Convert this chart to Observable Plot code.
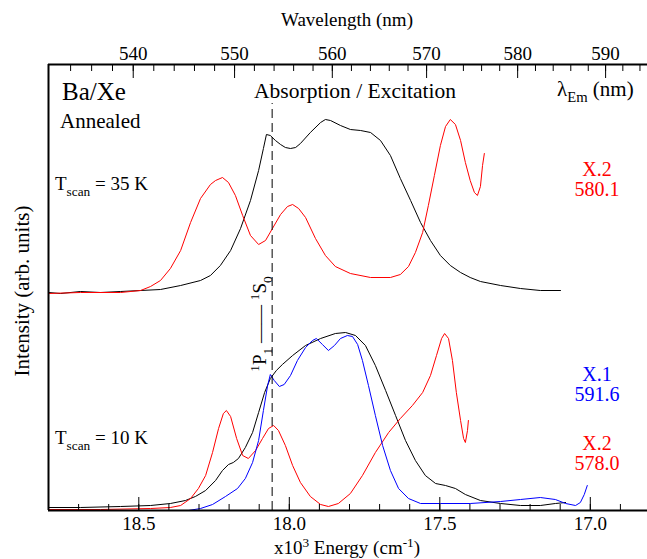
<!DOCTYPE html>
<html><head><meta charset="utf-8">
<script src="https://cdn.jsdelivr.net/npm/d3@7"></script>
<script src="https://cdn.jsdelivr.net/npm/@observablehq/plot@0.6"></script>
<style>
body{margin:0;background:#fff;overflow:hidden}
</style></head><body><div id="chart"></div>
<script>
// Energies in 10^3 cm^-1, intensities in arbitrary units
const black35E = [18.80,18.76,18.694,18.627,18.561,18.494,18.428,18.361,18.295,18.262,18.229,18.195,18.162,18.129,18.102,18.086,18.076,18.063,18.046,18.029,18.013,17.996,17.979,17.963,17.930,17.896,17.880,17.863,17.830,17.797,17.763,17.730,17.697,17.664,17.631,17.597,17.564,17.531,17.498,17.465,17.431,17.399,17.365,17.298,17.232,17.166,17.099];
const black35I = [218,217,219,218,219,220,221,225,230,235,245,260,282,310,340,362,376,375,370,366,363,362,363,367,378,388,391,390,385,381,380,378,370,355,332,310,288,270,255,245,238,233,229,225,222,220,220];
const red35E = [18.80,18.694,18.561,18.494,18.461,18.428,18.395,18.361,18.328,18.295,18.262,18.245,18.222,18.202,18.179,18.155,18.129,18.102,18.079,18.056,18.029,18.006,17.989,17.969,17.946,17.913,17.880,17.847,17.797,17.730,17.664,17.631,17.604,17.581,17.557,17.538,17.518,17.498,17.481,17.465,17.448,17.431,17.415,17.399,17.385,17.375,17.365,17.358,17.352];
const red35I = [217,218,218,220,224,230,242,260,288,312,326,330,333,328,315,295,275,266,270,282,296,304,306,302,293,272,255,244,237,233,233,236,244,258,278,305,335,365,384,391,386,370,348,330,318,315,324,345,357];
const black10E = [18.80,18.694,18.561,18.461,18.395,18.345,18.312,18.278,18.245,18.222,18.202,18.186,18.169,18.146,18.122,18.102,18.082,18.063,18.043,18.023,17.989,17.946,17.896,17.847,17.813,17.780,17.747,17.714,17.680,17.647,17.614,17.581,17.548,17.514,17.481,17.448,17.415,17.365,17.298,17.232,17.166,17.116,17.082];
const black10I = [3,3,4,5,7,10,14,20,30,40,46,48,52,63,78,98,118,132,140,146,155,165,172,177,178,175,165,145,120,95,70,50,35,27,25,22,16,10,7,5,5,7,8];
const red10E = [18.80,18.627,18.461,18.395,18.361,18.328,18.302,18.278,18.255,18.235,18.219,18.209,18.195,18.175,18.155,18.136,18.112,18.089,18.069,18.052,18.036,18.013,17.989,17.963,17.930,17.896,17.870,17.837,17.797,17.757,17.714,17.670,17.631,17.591,17.557,17.531,17.511,17.494,17.484,17.471,17.458,17.445,17.431,17.421,17.415,17.408,17.405];
const red10I = [1,1,2,3,5,12,22,35,58,82,97,100,94,72,55,52,60,72,82,85,80,65,45,28,14,6,4,7,17,35,58,78,92,105,118,135,155,172,177,172,150,118,90,72,68,80,90];
const blue10E = [18.335,18.295,18.255,18.212,18.172,18.146,18.122,18.102,18.086,18.072,18.063,18.050,18.033,18.017,17.996,17.973,17.946,17.923,17.910,17.890,17.870,17.850,17.830,17.807,17.790,17.773,17.757,17.737,17.714,17.690,17.664,17.637,17.604,17.564,17.498,17.399,17.298,17.232,17.166,17.116,17.082,17.049,17.033,17.020,17.010];
const blue10I = [0,2,6,14,22,32,48,70,100,125,136,130,124,126,135,150,163,170,172,166,160,165,172,175,174,166,150,125,95,65,40,22,12,7,7,7,9,11,13,11,7,5,8,16,25];

const energyMajor = [18.5,18.0,17.5,17.0];
const energyMinor = [18.7,18.6,18.5,18.4,18.3,18.2,18.1,18.0,17.9,17.8,17.7,17.6,17.5,17.4,17.3,17.2,17.1,17.0,16.9];
const wavelengthMajor = [540,550,560,570,580,590];
const wavelengthMinor = [534,536,538,540,542,544,546,548,550,552,554,556,558,560,562,564,566,568,570,572,574,576,578,580,582,584,586,588,590,592,594];
const transitionE = [18.057];   // 1P1 - 1S0
const transitionTop = 407;
const xDomain = [18.8, 16.8];
const yDomain = [0, 446];
const FONT = "Liberation Serif";

const seriesList = [
  {id:"abs35", E:black35E, I:black35I, color:"black"},
  {id:"x2_35", E:red35E, I:red35I, color:"#ff0000"},
  {id:"abs10", E:black10E, I:black10I, color:"black"},
  {id:"x2_10", E:red10E, I:red10I, color:"#ff0000"},
  {id:"x1_10", E:blue10E, I:blue10I, color:"#0000ff"}
];
const rows = seriesList.flatMap(s => s.E.map((e,i) => ({E:e, I:s.I[i], series:s.id, color:s.color})));

const plot = Plot.plot({
  width: 647, height: 559,
  marginLeft: 48, marginRight: 0, marginTop: 64, marginBottom: 49,
  x: {domain: xDomain, range: [48, 650]},
  y: {domain: yDomain, axis: null},
  color: {type: "identity"},
  style: {background: "white", color: "black"},
  marks: [
    Plot.line(rows, {x:"E", y:"I", z:"series", stroke:"color", strokeWidth:1}),
    Plot.ruleX(transitionE, {y1: yDomain[0], y2: transitionTop, stroke:"black", strokeDasharray:"9,5", strokeWidth:1}),
    Plot.tickX(energyMinor, {x: d => d, insetTop: 440, stroke:"black"}),
    Plot.tickX(energyMajor, {x: d => d, insetTop: 433, stroke:"black"}),
    Plot.tickX(wavelengthMinor, {x: l => 1e4 / l, insetBottom: 439, stroke:"black"}),
    Plot.tickX(wavelengthMajor, {x: l => 1e4 / l, insetBottom: 432, stroke:"black"}),
    Plot.axisX({anchor:"bottom", ticks: energyMajor, tickSize: 0, tickPadding: 6, tickFormat: d => d.toFixed(1), fontSize: 19, label: null}),
    Plot.axisX({anchor:"top", ticks: wavelengthMajor.map(l => 1e4 / l), tickSize: 0, tickPadding: 5, tickFormat: e => String(Math.round(1e4 / e)), fontSize: 19, label: null}),
    Plot.ruleY([yDomain[0], yDomain[1]], {stroke:"black", strokeWidth: 2}),
    Plot.ruleX([xDomain[0]], {stroke:"black", strokeWidth: 2})
  ]
});
document.getElementById("chart").appendChild(plot);

const svg = d3.select(plot);
const g = svg.append("g");
function rich(x, y, size, anchor, fill, segs, transform) {
  const t = g.append("text").attr("x", x).attr("y", y).attr("font-size", size)
    .attr("text-anchor", anchor).attr("fill", fill);
  if (transform) t.attr("transform", transform);
  let shift = 0;
  for (const seg of segs) {
    const [s, k] = Array.isArray(seg) ? seg : [seg, ""];
    const target = k === "sub" ? size * 0.3 : k === "sup" ? -size * 0.38 : 0;
    t.append("tspan").attr("dy", target - shift).attr("font-size", k ? size * 0.7 : size).text(s);
    shift = target;
  }
  return t;
}
rich(347, 26, 19, "middle", "black", ["Wavelength (nm)"]);
rich(347, 554, 19, "middle", "black", ["x10", ["3","sup"], " Energy (cm", ["-1","sup"], ")"]);
rich(0, 0, 21, "middle", "black", ["Intensity (arb. units)"], "translate(29,291) rotate(-90)");
rich(62, 100, 25, "start", "black", ["Ba/Xe"]);
rich(60, 128, 21, "start", "black", ["Annealed"]);
rich(355, 98, 21.5, "middle", "black", ["Absorption / Excitation"]);
rich(557, 96, 21, "start", "black", ["λ", ["Em","sub"], " (nm)"]);
rich(55, 190, 19, "start", "black", ["T", ["scan","sub"], " = 35 K"]);
rich(55, 444, 19, "start", "black", ["T", ["scan","sub"], " = 10 K"]);
rich(597, 176, 20, "middle", "#ff0000", ["X.2"]);
rich(597, 196, 20, "middle", "#ff0000", ["580.1"]);
rich(597, 381, 20, "middle", "#0000ff", ["X.1"]);
rich(597, 401, 20, "middle", "#0000ff", ["591.6"]);
rich(597, 450, 20, "middle", "#ff0000", ["X.2"]);
rich(597, 470, 20, "middle", "#ff0000", ["578.0"]);
rich(0, 0, 19, "middle", "black", [["1","sup"], "P", ["1","sub"], " —— ", ["1","sup"], "S", ["0","sub"]], "translate(266,324) rotate(-90)");

// force the serif face on every text
svg.style("font-family", FONT, "important");
svg.selectAll("g").attr("font-family", FONT).style("font-family", FONT, "important");
svg.selectAll("text, tspan").attr("font-family", FONT).style("font-family", FONT, "important");
</script></body></html>
